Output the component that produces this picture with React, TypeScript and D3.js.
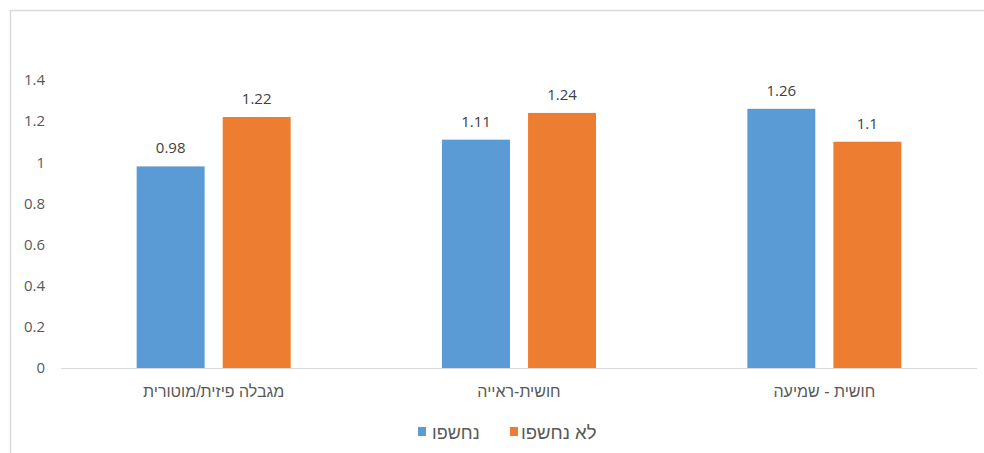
import React from 'react';
import * as d3 from 'd3';

// chart data
const categories = ['מגבלה פיזית/מוטורית', 'חושית-ראייה', 'חושית - שמיעה'];
const seriesNames = ['נחשפו', 'לא נחשפו'];
const exposed = [0.98, 1.11, 1.26];
const notExposed = [1.22, 1.24, 1.1];
const yTicks = [0, 0.2, 0.4, 0.6, 0.8, 1, 1.2, 1.4];

const colors = ['#5B9BD5', '#ED7D31'];
const numFont = '"Open Sans", "Liberation Sans", sans-serif';
const hebFont = '"Liberation Sans", "DejaVu Sans", sans-serif';

export default function App() {
  const width = 984;
  const height = 453;
  const plot = { left: 61, right: 977, top: 80, bottom: 368 };

  const y = d3.scaleLinear().domain([0, 1.4]).range([plot.bottom, plot.top]);
  const x0 = d3.scaleBand<string>().domain(categories).range([plot.left, plot.right]);
  const groupW = 154;
  const x1 = d3
    .scaleBand<number>()
    .domain([0, 1])
    .range([(x0.bandwidth() - groupW) / 2, (x0.bandwidth() + groupW) / 2])
    .paddingInner(0.21)
    .paddingOuter(0);

  const values = [exposed, notExposed];

  return (
    <svg
      width={width}
      height={height}
      style={{ position: 'absolute', left: 0, top: 0, background: '#fff' }}
    >
      {/* chart frame */}
      <rect x={10.5} y={10.5} width={1000} height={500} fill="#fff" stroke="#D9D9D9" strokeWidth={1.5} />

      {/* y tick labels */}
      {yTicks.map(t => (
        <text key={t} x={45} y={y(t)} dy="0.35em" textAnchor="end" fontSize={15} fill="#595959" fontFamily={numFont}>
          {String(t)}
        </text>
      ))}

      {/* bars + labels */}
      {categories.map((c, ci) => (
        <g key={c} transform={`translate(${x0(c)},0)`}>
          {values.map((vals, si) => {
            const v = vals[ci];
            const bx = x1(si)!;
            const bw = x1.bandwidth();
            return (
              <g key={si}>
                <rect x={bx} y={y(v)} width={bw} height={y(0) - y(v)} fill={colors[si]} />
                <text x={bx + bw / 2} y={y(v) - 13} textAnchor="middle" fontSize={15} fill="#404040" fontFamily={numFont}>
                  {String(v)}
                </text>
              </g>
            );
          })}
          <text x={x0.bandwidth() / 2} y={397} textAnchor="middle" fontSize={16} fill="#595959" fontFamily={hebFont}>
            {c}
          </text>
        </g>
      ))}

      {/* baseline */}
      <line x1={plot.left} x2={plot.right} y1={y(0) + 0.5} y2={y(0) + 0.5} stroke="#D9D9D9" strokeWidth={1} />

      {/* legend */}
      <g fontFamily={hebFont}>
        <rect x={418} y={427} width={8} height={9} fill={colors[0]} />
        <text x={432} y={439} fontSize={18} fill="#595959">{seriesNames[0]}</text>
        <rect x={510} y={427} width={8} height={9} fill={colors[1]} />
        <text x={521} y={439} fontSize={18.5} fill="#595959">{seriesNames[1]}</text>
      </g>
    </svg>
  );
}
